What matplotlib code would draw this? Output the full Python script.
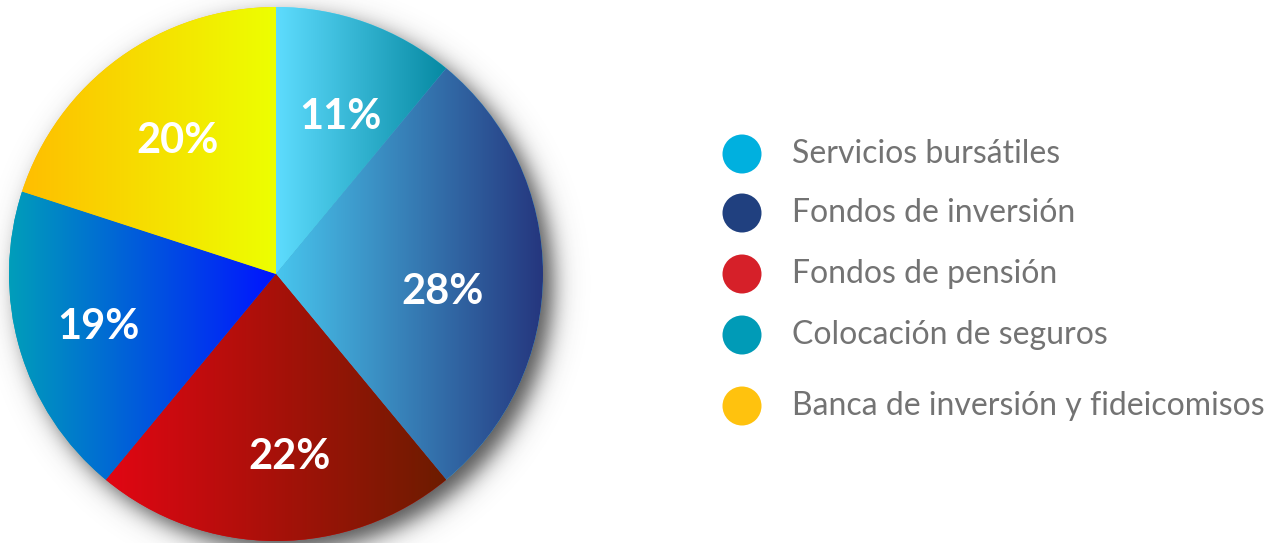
import numpy as np
import matplotlib
matplotlib.use("Agg")
import matplotlib.pyplot as plt
from matplotlib.colors import LinearSegmentedColormap

# data
categories = [
    "Servicios bursátiles",
    "Fondos de inversión",
    "Fondos de pensión",
    "Colocación de seguros",
    "Banca de inversión y fideicomisos",
]
shares = [11, 28, 22, 19, 20]
legend_colors = ["#00B0DF", "#20407F", "#D62029", "#009BB7", "#FFC20E"]
# left -> right gradient of each slice
slice_gradients = [
    ("#5EDCFE", "#0689A2"),
    ("#48C6EE", "#25367E"),
    ("#E20613", "#6C1C00"),
    ("#009EBA", "#0014FF"),
    ("#FFBE00", "#EDFF00"),
]

W, H = 1274, 543
fig = plt.figure(figsize=(W / 100, H / 100), dpi=100)
ax = fig.add_axes([0, 0, 1, 1])

cx, cy, R = 276, 269, 267

# soft drop shadow behind the pie
X, Y = np.meshgrid(np.arange(W) + 0.5, np.arange(H) + 0.5)
d = np.hypot(X - (cx + 10), Y - (cy - 10)) - R
alpha = 0.85 / (1 + np.exp(d / 7.0))
shadow = np.zeros((H, W, 4))
shadow[..., :3] = 0.2
shadow[..., 3] = alpha
ax.imshow(shadow, extent=(0, W, 0, H), origin="lower", zorder=1, interpolation="bilinear")

wedges, _ = ax.pie(
    shares,
    startangle=90,
    counterclock=False,
    radius=R,
    center=(cx, cy),
    colors=[g[0] for g in slice_gradients],
    wedgeprops=dict(linewidth=0),
)

ramp = np.linspace(0, 1, 256).reshape(1, -1)
for w, (c0, c1) in zip(wedges, slice_gradients):
    w.set_zorder(2)
    bb = w.get_path().get_extents()
    cmap = LinearSegmentedColormap.from_list("g", [c0, c1])
    im = ax.imshow(ramp, cmap=cmap, aspect="auto", zorder=3,
                   extent=(bb.x0, bb.x1, bb.y0, bb.y1), interpolation="bilinear")
    im.set_clip_path(w)

# percentage labels
label_pos = [(340, 117), (443, 292), (290, 457), (98, 327), (178, 141)]
for (px, py), s in zip(label_pos, shares):
    ax.text(px, H - py, f"{s}%", color="white", fontsize=30, fontweight="bold",
            family="Lato", ha="center", va="center", zorder=5)

# legend
legend_y = [154, 213, 274, 335, 406]
for yy, c, name in zip(legend_y, legend_colors, categories):
    ax.add_patch(plt.Circle((742, H - yy), 19.5, color=c, zorder=5, lw=0))
    ax.text(792, H - yy, name, color="#737373", fontsize=23, family="Lato",
            fontweight="normal", ha="left", va="center", zorder=5)

ax.set_xlim(0, W)
ax.set_ylim(0, H)
ax.set_aspect("equal")
ax.axis("off")

fig.savefig("out.png", dpi=100, facecolor="white")
